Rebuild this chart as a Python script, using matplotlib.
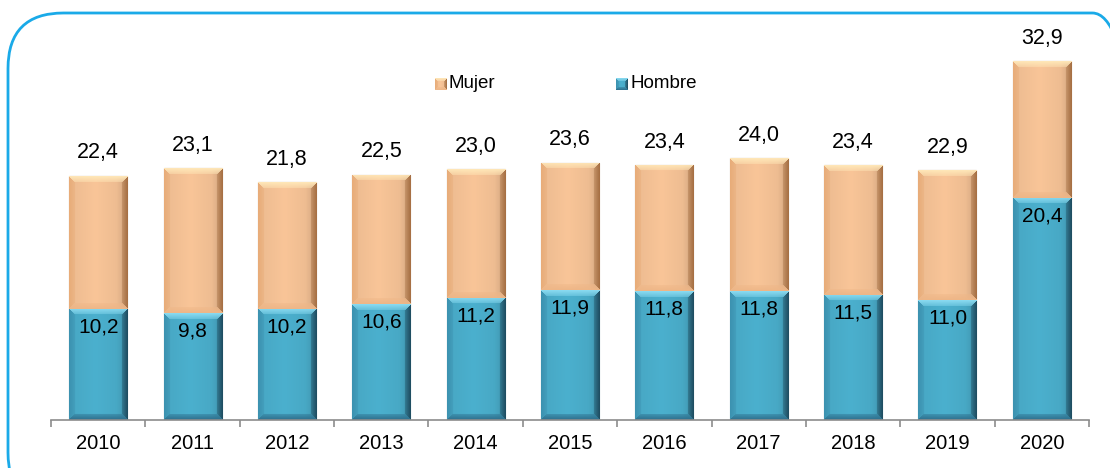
import numpy as np
import matplotlib
matplotlib.use("Agg")
import matplotlib.pyplot as plt
from matplotlib.patches import FancyBboxPatch
from matplotlib import font_manager

years = ["2010", "2011", "2012", "2013", "2014", "2015", "2016", "2017", "2018", "2019", "2020"]
hombre = [10.2, 9.8, 10.2, 10.6, 11.2, 11.9, 11.8, 11.8, 11.5, 11.0, 20.4]
total = [22.4, 23.1, 21.8, 22.5, 23.0, 23.6, 23.4, 24.0, 23.4, 22.9, 32.9]
mujer = [round(t - h, 1) for t, h in zip(total, hombre)]

names = {f.name for f in font_manager.fontManager.ttflist}
fam = [f for f in ["Liberation Sans Narrow", "Liberation Sans", "DejaVu Sans"] if f in names]
plt.rcParams["font.family"] = fam

W, H, DPI = 1110, 468, 100
fig = plt.figure(figsize=(W / DPI, H / DPI), dpi=DPI)

# rounded frame
frame = FancyBboxPatch((8 / W, -40 / H), 1140 / W, (H - 13 + 40) / H,
                       boxstyle="round,pad=0,rounding_size=0.05",
                       transform=fig.transFigure, fill=False,
                       edgecolor="#1AAAE8", linewidth=2.0, mutation_aspect=W / H)
fig.patches.append(frame)

ax_left, ax_right = 51 / W, 1089 / W
ax_bottom = (H - 420) / H
ymax = 36
ppu = 10.9
ax_h = ymax * ppu / H
ax = fig.add_axes([ax_left, ax_bottom, ax_right - ax_left, ax_h])
ax.set_xlim(-0.5, len(years) - 0.5)
ax.set_ylim(0, ymax)
ax.patch.set_alpha(0)
for s in ["top", "right", "left"]:
    ax.spines[s].set_visible(False)
ax.spines["bottom"].set_color("#8C8C8C")
ax.spines["bottom"].set_linewidth(1.2)
ax.set_yticks([])
ax.set_xticks(np.arange(-0.5, len(years), 1.0))
ax.set_xticklabels([])
ax.tick_params(axis="x", length=5, color="#8C8C8C", width=1.2, direction="out")
x = np.arange(len(years))
for xi, yl in zip(x, years):
    ax.text(xi, -2.2, yl, ha="center", va="center", fontsize=14.5, color="black")

bw = 0.615
orange = dict(base=np.array([249, 197, 152]), top=np.array([255, 232, 185]),
              left=np.array([232, 172, 120]), right=np.array([165, 110, 65]),
              bottom=np.array([238, 182, 135]))
blue = dict(base=np.array([75, 176, 206]), top=np.array([140, 220, 242]),
            left=np.array([60, 145, 175]), right=np.array([30, 75, 95]),
            bottom=np.array([45, 110, 140]))

px_per_x = (1089 - 51) / len(years)


def bevel_image(wpx, hpx, pal, b=6):
    wpx, hpx = int(round(wpx)), max(int(round(hpx)), 2)
    jj, ii = np.meshgrid(np.arange(wpx) + 0.5, np.arange(hpx) + 0.5)
    dl, dr = jj, wpx - jj
    dt, db = ii, hpx - ii
    img = np.zeros((hpx, wpx, 3))
    t = jj / wpx
    shade = 1.0 - 0.06 * np.abs(t - 0.45) * 2 - 0.10 * np.clip((t - 0.8) / 0.2, 0, 1)
    img[:] = pal["base"][None, None, :] * shade[..., None]
    d = np.stack([dt, db, dl, dr], axis=-1)
    which = np.argmin(d, axis=-1)
    mind = np.min(d, axis=-1)
    keys = ["top", "bottom", "left", "right"]
    for k_i, k in enumerate(keys):
        m = (mind < b) & (which == k_i)
        frac = (mind[m] / b)[:, None]
        img[m] = pal[k][None, :] * (1 - frac * 0.6) + img[m] * frac * 0.6
    return np.clip(img / 255.0, 0, 1)


def draw_bars(bottoms, heights, pal, edge):
    bars = ax.bar(x, heights, bw, bottom=bottoms, color=pal["base"] / 255.0,
                  edgecolor=edge, linewidth=0.8, zorder=2)
    for bar in bars:
        x0, y0 = bar.get_x(), bar.get_y()
        w, h = bar.get_width(), bar.get_height()
        img = bevel_image(w * px_per_x, h * ppu, pal)
        im = ax.imshow(img, extent=(x0, x0 + w, y0, y0 + h), origin="upper",
                       aspect="auto", zorder=2.5, interpolation="bilinear")
        im.set_clip_path(bar)
    return bars


draw_bars([0] * len(x), hombre, blue, "#3A6F80")
draw_bars(hombre, mujer, orange, "#9C7050")
ax.set_xlim(-0.5, len(years) - 0.5)
ax.set_ylim(0, ymax)

for xi, h in zip(x, hombre):
    ax.text(xi, h - 1.65, f"{h:.1f}".replace(".", ","), ha="center", va="center",
            fontsize=15, color="black", zorder=4)
for xi, t in zip(x, total):
    ax.text(xi, t + 2.1, f"{t:.1f}".replace(".", ","), ha="center", va="center",
            fontsize=15.5, color="black", zorder=4)


def legend_entry(xpx, label, pal):
    fy = (H - 84) / H
    img = bevel_image(12, 12, pal, b=3)
    lax = fig.add_axes([(xpx - 14) / W, (H - 90) / H, 12 / W, 12 / H])
    lax.imshow(img, aspect="auto", interpolation="bilinear")
    lax.set_axis_off()
    fig.text(xpx / W, fy, label, ha="left", va="center", fontsize=13.5, color="black")

legend_entry(449, "Mujer", orange)
legend_entry(630, "Hombre", blue)

fig.savefig("out.png", dpi=DPI)
